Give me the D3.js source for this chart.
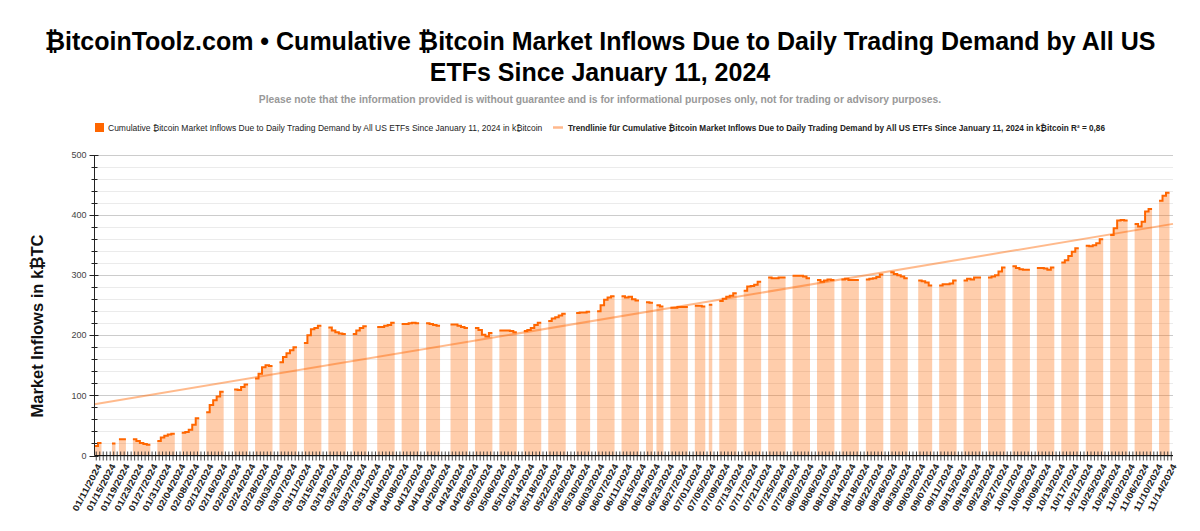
<!DOCTYPE html>
<html>
<head>
<meta charset="utf-8">
<script src="https://cdn.jsdelivr.net/npm/d3@7"></script>
<style>
  html, body { margin: 0; padding: 0; background: #fff; }
  svg { display: block; font-family: Arial, "Liberation Sans", sans-serif; }
</style>
</head>
<body>
<div id="chart"></div>
<script>
// category axis: every calendar day, labels every 4th day
const firstDay = "2024-01-11";
const lastDay = "2024-11-14";
const labelEvery = 4;
const yTicks = [0, 100, 200, 300, 400, 500];

// trading weeks (Monday) and cumulative inflows in kBTC, Mon..Fri, null = no value
const weekStarts = [
  "2024-01-08", "2024-01-15", "2024-01-22", "2024-01-29", "2024-02-05", "2024-02-12",
  "2024-02-19", "2024-02-26", "2024-03-04", "2024-03-11", "2024-03-18", "2024-03-25",
  "2024-04-01", "2024-04-08", "2024-04-15", "2024-04-22", "2024-04-29", "2024-05-06",
  "2024-05-13", "2024-05-20", "2024-05-27", "2024-06-03", "2024-06-10", "2024-06-17",
  "2024-06-24", "2024-07-01", "2024-07-08", "2024-07-15", "2024-07-22", "2024-07-29",
  "2024-08-05", "2024-08-12", "2024-08-19", "2024-08-26", "2024-09-02", "2024-09-09",
  "2024-09-16", "2024-09-23", "2024-09-30", "2024-10-07", "2024-10-14", "2024-10-21",
  "2024-10-28", "2024-11-04", "2024-11-11"
];
const weeklyInflows = [
  [null, null, null, 16, 21],
  [null, 20, null, 27, 27],
  [27, 24, 21, 19, 18],
  [24, 30, 33, 35, 36],
  [38, 39, 43, 51, 62],
  [72, 84, 92, 98, 106],
  [null, 110, 109, 114, 118],
  [128, 136, 147, 150, 149],
  [155, 164, 170, 175, 180],
  [187, 200, 210, 212, 216],
  [213, 208, 205, 203, 202],
  [202, 208, 212, 215, null],
  [214, 214, 216, 217, 221],
  [219, 219, 220, 221, 220],
  [220, 219, 217, 216, null],
  [218, 218, 216, 214, 212],
  [212, 209, 201, 198, 204],
  [208, 208, 208, 207, 205],
  [207, 209, 212, 217, 221],
  [224, 228, 230, 233, 236],
  [null, 237, 238, 238, 239],
  [240, 250, 259, 263, 265],
  [265, 263, 264, 260, 258],
  [255, 254, null, 250, 248],
  [246, 246, 247, 247, 247],
  [249, 249, 248, null, 251],
  [257, 261, 264, 266, 270],
  [274, 281, 282, 284, 289],
  [296, 295, 295, 296, 296],
  [299, 299, 299, 298, 295],
  [292, 289, 291, 293, 292],
  [293, 294, 292, 292, 292],
  [293, 294, 295, 297, 301],
  [305, 302, 300, 298, 295],
  [null, 291, 290, 288, 283],
  [283, 285, 285, 286, 291],
  [291, 294, 293, 296, 296],
  [296, 298, 300, 306, 313],
  [315, 312, 310, 309, 309],
  [312, 312, 311, 309, 313],
  [321, 325, 332, 339, 345],
  [349, 348, 350, 353, 360],
  [367, 378, 391, 392, 391],
  [385, 381, 389, 406, 410],
  [424, 432, 437, null, null]
];

const titleLines = [
  "\u20BFitcoinToolz.com \u2022 Cumulative \u20BFitcoin Market Inflows Due to Daily Trading Demand by All US",
  "ETFs Since January 11, 2024"
];
const subtitle = "Please note that the information provided is without guarantee and is for informational purposes only, not for trading or advisory purposes.";
const seriesName = "Cumulative \u20BFitcoin Market Inflows Due to Daily Trading Demand by All US ETFs Since January 11, 2024 in k\u20BFitcoin";
const trendName = "Trendlinie f\u00FCr Cumulative \u20BFitcoin Market Inflows Due to Daily Trading Demand by All US ETFs Since January 11, 2024 in k\u20BFitcoin R\u00B2 = 0,86";
const yTitle = "Market Inflows in k\u20BFTC";

const W = 1200, H = 531;
const parse = d3.timeParse("%Y-%m-%d");
const fmt = d3.timeFormat("%m/%d/%Y");
const key = d3.timeFormat("%Y-%m-%d");

const days = d3.timeDay.range(parse(firstDay), d3.timeDay.offset(parse(lastDay), 1));
const valueByDay = new Map();
weekStarts.forEach((w, wi) => {
  weeklyInflows[wi].forEach((v, k) => {
    valueByDay.set(key(d3.timeDay.offset(parse(w), k)), v);
  });
});
const data = days.map((d, i) => ({ i, date: d, value: valueByDay.has(key(d)) ? valueByDay.get(key(d)) : null }));

const margin = { left: 94.5, right: 27, top: 155, bottom: 75.5 };
const x = d3.scaleBand().domain(data.map(d => d.i)).range([margin.left, W - margin.right]).padding(0);
const y = d3.scaleLinear().domain([0, 500]).range([H - margin.bottom, margin.top]);
const bw = x.bandwidth();

const svg = d3.select("#chart").append("svg").attr("width", W).attr("height", H);

// title
svg.append("g").selectAll("text").data(titleLines).enter().append("text")
  .attr("x", W / 2).attr("y", (d, i) => 50 + i * 31)
  .attr("text-anchor", "middle")
  .style("font-size", "25px").style("font-weight", "bold").style("fill", "#000")
  .text(d => d);

svg.append("text")
  .attr("x", W / 2).attr("y", 103)
  .attr("text-anchor", "middle")
  .style("font-size", "10.3px").style("font-weight", "bold").style("fill", "#999")
  .text(subtitle);

// legend
const lg = svg.append("g");
lg.append("rect").attr("x", 95).attr("y", 123).attr("width", 9).attr("height", 9).attr("fill", "#ff6600");
lg.append("text").attr("x", 108).attr("y", 130.5).style("font-size", "8.5px").style("fill", "#222").text(seriesName);
lg.append("line").attr("x1", 553).attr("x2", 563).attr("y1", 127.5).attr("y2", 127.5)
  .attr("stroke", "#ffb88c").attr("stroke-width", 2.5);
lg.append("text").attr("x", 568).attr("y", 130.5).style("font-size", "8.2px").style("font-weight", "bold").style("fill", "#222").text(trendName);

// grid
const minor = d3.range(0, 501, 20);
svg.append("g").selectAll("line").data(minor).enter().append("line")
  .attr("x1", margin.left).attr("x2", W - margin.right)
  .attr("y1", d => Math.round(y(d)) + 0.5).attr("y2", d => Math.round(y(d)) + 0.5)
  .attr("stroke", d => d % 100 === 0 ? "#cccccc" : "#ebebeb").attr("stroke-width", 1);

// step area + line
const pts = [];
data.forEach(d => {
  pts.push({ x: x(d.i), v: d.value });
  pts.push({ x: x(d.i) + bw, v: d.value });
});
const area = d3.area().defined(p => p.v != null).x(p => p.x).y0(y(0)).y1(p => y(p.v));
const line = d3.line().defined(p => p.v != null).x(p => p.x).y(p => y(p.v));
svg.append("path").attr("d", area(pts)).attr("fill", "#ff6600").attr("fill-opacity", 0.33);
svg.append("path").attr("d", line(pts)).attr("fill", "none").attr("stroke", "#ff6600").attr("stroke-width", 2);

// linear trend line (least squares over day index)
const known = data.filter(d => d.value != null);
const mx = d3.mean(known, d => d.i), my = d3.mean(known, d => d.value);
const slope = d3.sum(known, d => (d.i - mx) * (d.value - my)) / d3.sum(known, d => (d.i - mx) ** 2);
const icpt = my - slope * mx;
const i0 = -0.5, i1 = data.length - 0.5;
svg.append("line")
  .attr("x1", margin.left).attr("x2", W - margin.right)
  .attr("y1", y(icpt + slope * i0)).attr("y2", y(icpt + slope * i1))
  .attr("stroke", "#ff6600").attr("stroke-opacity", 0.45).attr("stroke-width", 2);

// y axis
const yAxis = svg.append("g").attr("transform", `translate(${margin.left},0)`);
yAxis.append("line").attr("y1", y(500)).attr("y2", y(0)).attr("stroke", "#222");
yAxis.selectAll(".mt").data(minor).enter().append("line")
  .attr("x1", d => d % 100 === 0 ? -5 : -3).attr("x2", d => d % 100 === 0 ? 4 : 3)
  .attr("y1", d => Math.round(y(d)) + 0.5).attr("y2", d => Math.round(y(d)) + 0.5)
  .attr("stroke", "#222");
yAxis.selectAll("text").data(yTicks).enter().append("text")
  .attr("x", -8).attr("y", d => y(d)).attr("dy", "0.35em")
  .attr("text-anchor", "end").style("font-size", "9px").style("fill", "#444")
  .text(d => d);

svg.append("text")
  .attr("transform", `translate(43,326) rotate(-90)`)
  .attr("text-anchor", "middle").style("font-size", "16.5px").style("font-weight", "bold").style("fill", "#111")
  .text(yTitle);

// x axis: tick per day, label every 4th
const xAxis = svg.append("g").attr("transform", `translate(0,${y(0)})`);
xAxis.selectAll("line.t").data(data).enter().append("line")
  .attr("x1", d => x(d.i) + bw / 2).attr("x2", d => x(d.i) + bw / 2)
  .attr("y1", -4).attr("y2", 5).attr("stroke", "#333").attr("stroke-width", 0.9);
xAxis.append("line").attr("x1", margin.left).attr("x2", W - margin.right).attr("stroke", "#111");
xAxis.selectAll("text").data(data.filter(d => d.i % labelEvery === 0)).enter().append("text")
  .attr("transform", d => `translate(${x(d.i) + bw / 2 + 3},${9}) rotate(-62)`)
  .attr("text-anchor", "end").attr("dy", "0.35em")
  .attr("textLength", 52).attr("lengthAdjust", "spacingAndGlyphs")
  .style("font-size", "9px").style("font-weight", "bold").style("fill", "#222")
  .text(d => fmt(d.date));
</script>
</body>
</html>
